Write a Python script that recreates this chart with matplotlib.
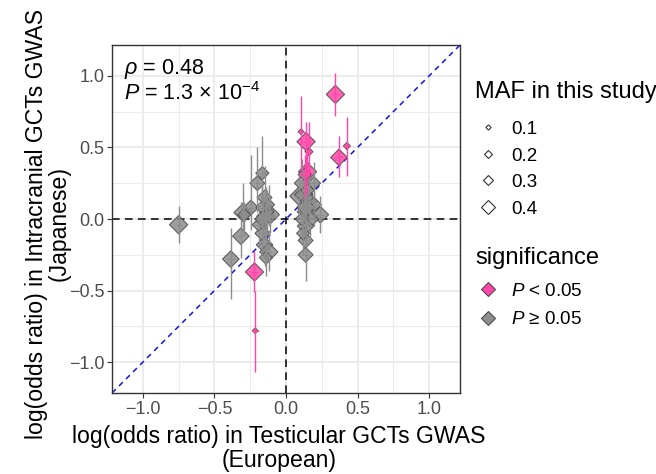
import matplotlib
matplotlib.use("Agg")
import matplotlib.pyplot as plt
from matplotlib.lines import Line2D
import numpy as np

plt.rcParams['font.family'] = ['Liberation Sans', 'DejaVu Sans']
plt.rcParams['mathtext.fontset'] = 'custom'
plt.rcParams['mathtext.rm'] = 'Liberation Sans'
plt.rcParams['mathtext.it'] = 'Liberation Sans:italic'
plt.rcParams['mathtext.default'] = 'it'

# ---- data: (x = European logOR, y = Japanese logOR, y CI low, y CI high, MAF)
sig_x   = [0.345, 0.14, 0.105, 0.16, 0.15, 0.13, 0.37, 0.425, -0.22, -0.215]
sig_y   = [0.87, 0.54, 0.61, 0.47, 0.33, 0.31, 0.43, 0.51, -0.37, -0.78]
sig_lo  = [0.72, 0.35, 0.35, 0.30, 0.18, 0.15, 0.29, 0.30, -0.51, -1.07]
sig_hi  = [1.02, 0.68, 0.86, 0.68, 0.48, 0.45, 0.58, 0.71, -0.22, -0.50]
sig_maf = [0.45, 0.45, 0.08, 0.15, 0.45, 0.30, 0.40, 0.12, 0.45, 0.08]

ns_x   = [-0.75, -0.385, -0.315, -0.30, -0.29, -0.245, -0.20, -0.165, -0.15, -0.14,
          -0.11, -0.13, -0.17, -0.165, -0.15, -0.12, -0.19, -0.14, -0.16, -0.12,
          0.09, 0.125, 0.11, 0.195, 0.16, 0.195, 0.24, 0.17, 0.137, 0.137,
          0.137, 0.13, 0.15, 0.14, 0.11, 0.12]
ns_y   = [-0.04, -0.28, -0.12, 0.045, 0.03, 0.08, 0.25, 0.32, 0.15, 0.02,
          0.03, 0.05, 0.08, -0.10, -0.18, -0.23, -0.04, -0.27, 0.0, 0.10,
          0.16, 0.17, 0.25, 0.25, 0.125, 0.10, 0.03, 0.0, -0.05, -0.15,
          -0.25, 0.05, 0.20, 0.08, 0.0, -0.10]
ns_lo  = [-0.17, -0.56, -0.27, -0.10, -0.12, -0.08, 0.05, 0.12, -0.05, -0.15,
          -0.10, -0.08, -0.06, -0.25, -0.33, -0.36, -0.20, -0.40, -0.15, -0.05,
          0.02, 0.02, 0.10, 0.10, -0.02, -0.05, -0.10, -0.15, -0.20, -0.30,
          -0.43, -0.12, 0.05, -0.07, -0.12, -0.25]
ns_hi  = [0.09, -0.06, 0.12, 0.25, 0.12, 0.45, 0.50, 0.58, 0.37, 0.22,
          0.15, 0.20, 0.25, 0.05, -0.02, -0.08, 0.12, -0.13, 0.17, 0.24,
          0.32, 0.33, 0.42, 0.40, 0.28, 0.26, 0.16, 0.15, 0.10, 0.0,
          -0.08, 0.20, 0.36, 0.23, 0.12, 0.04]
ns_maf = [0.45, 0.40, 0.40, 0.45, 0.30, 0.35, 0.35, 0.30, 0.35, 0.45,
          0.45, 0.30, 0.25, 0.35, 0.40, 0.45, 0.30, 0.30, 0.40, 0.25,
          0.45, 0.45, 0.35, 0.30, 0.40, 0.35, 0.40, 0.40, 0.40, 0.35,
          0.35, 0.35, 0.30, 0.45, 0.30, 0.30]

maf_breaks = [0.1, 0.2, 0.3, 0.4]
axis_ticks = [-1.0, -0.5, 0.0, 0.5, 1.0]
tick_labels = ['\u22121.0', '\u22120.5', '0.0', '0.5', '1.0']

PINK = '#FF45A8'
GRAY = '#8E8E8E'
EDGE = '#4D4D4D'
PX2PT = 72 / 100

def maf_to_ms(m):
    # diamond width in px ~ 3 + 34*MAF ; convert to matplotlib markersize (pt)
    w = 3 + 34 * np.asarray(m)
    return w / 1.414 * PX2PT

def maf_to_legend_ms(m):
    w = 2.6 + 26 * m
    return w / 1.414 * PX2PT

fig = plt.figure(figsize=(6.56, 4.74), dpi=100)
ax = fig.add_axes([112/656, 1 - 393/474, 348/656, 348/474])
lim = (-1.215, 1.215)
ax.set_xlim(lim)
ax.set_ylim(lim)

ax.set_xticks(axis_ticks)
ax.set_yticks(axis_ticks)
ax.set_xticks([-0.75, -0.25, 0.25, 0.75], minor=True)
ax.set_yticks([-0.75, -0.25, 0.25, 0.75], minor=True)
ax.grid(True, which='major', color='#EBEBEB', lw=1.4, zorder=0)
ax.grid(True, which='minor', color='#EBEBEB', lw=0.8, zorder=0)
ax.set_axisbelow(True)
ax.tick_params(which='minor', length=0)
ax.tick_params(which='major', length=3.5, width=0.8, color='#333333',
               labelsize=13, labelcolor='#4D4D4D', pad=2)
ax.set_xticklabels(tick_labels)
ax.set_yticklabels(tick_labels)
for s in ax.spines.values():
    s.set_color('#333333')
    s.set_linewidth(1.0)

# reference lines
ax.axhline(0, color='black', lw=1.1, ls=(0, (5, 3.5)), zorder=1)
ax.axvline(0, color='black', lw=1.1, ls=(0, (5, 3.5)), zorder=1)
ax.plot(lim, lim, color='#1010EE', lw=1.1, ls=(0, (3.5, 3)), zorder=1)

def draw(xs, ys, lo, hi, maf, fc, ec_bar):
    xs = np.asarray(xs); ys = np.asarray(ys)
    ax.vlines(xs, lo, hi, color=ec_bar, lw=1.0, zorder=3)
    ax.hlines(ys, xs - 0.025, xs + 0.025, color=ec_bar, lw=0.8, zorder=3)
    ms = maf_to_ms(maf)
    ax.scatter(xs, ys, s=ms**2, marker='D', facecolor=fc, edgecolor=EDGE,
               linewidth=0.8, alpha=0.85, zorder=2)

draw(ns_x, ns_y, ns_lo, ns_hi, ns_maf, GRAY, '#8C8C8C')
draw(sig_x, sig_y, sig_lo, sig_hi, sig_maf, PINK, PINK)

ax.text(0.035, 0.965, r'$\rho$ = 0.48', transform=ax.transAxes, fontsize=15.5,
        va='top', ha='left')
ax.text(0.035, 0.893, r'$P$ = 1.3 × 10$^{\mathrm{−4}}$', transform=ax.transAxes,
        fontsize=15.5, va='top', ha='left')

# axis titles
LBL = 16.6
ax.set_xlabel('log(odds ratio) in Testicular GCTs GWAS\n(European)', fontsize=LBL,
              linespacing=1.05)
ax.xaxis.set_label_coords(0.48, -0.091)
ax.set_ylabel('log(odds ratio) in Intracranial GCTs GWAS\n(Japanese)', fontsize=LBL,
              linespacing=0.97)
ax.yaxis.set_label_coords(-0.118, 0.487)

# legends
fig.text(475/656, 1 - 92/474, 'MAF in this study', fontsize=17, ha='left', va='center')
maf_handles = [Line2D([], [], ls='none', marker='D', markersize=float(maf_to_legend_ms(m)),
                      markerfacecolor='none', markeredgecolor='#333333',
                      markeredgewidth=0.8) for m in maf_breaks]
leg1 = fig.legend(maf_handles, [f'{m:.1f}' for m in maf_breaks],
                  loc='upper left', bbox_to_anchor=(465/656, 1 - 111.5/474),
                  frameon=False, borderpad=0, fontsize=13.5, labelspacing=0.5,
                  handletextpad=0.45, handlelength=1.5)

fig.text(475/656, 1 - 258/474, 'significance', fontsize=17, ha='left', va='center')
sig_handles = [Line2D([], [], ls='none', marker='D', markersize=6.8,
                      markerfacecolor=PINK, markeredgecolor=EDGE, markeredgewidth=0.8),
               Line2D([], [], ls='none', marker='D', markersize=6.8,
                      markerfacecolor=GRAY, markeredgecolor=EDGE, markeredgewidth=0.8)]
leg2 = fig.legend(sig_handles, [r'$P$ < 0.05', r'$P$ ≥ 0.05'],
                  loc='upper left', bbox_to_anchor=(465/656, 1 - 273.5/474),
                  frameon=False, borderpad=0, fontsize=13.5, labelspacing=0.59,
                  handletextpad=0.45, handlelength=1.5)

fig.savefig('out.png', dpi=100)
